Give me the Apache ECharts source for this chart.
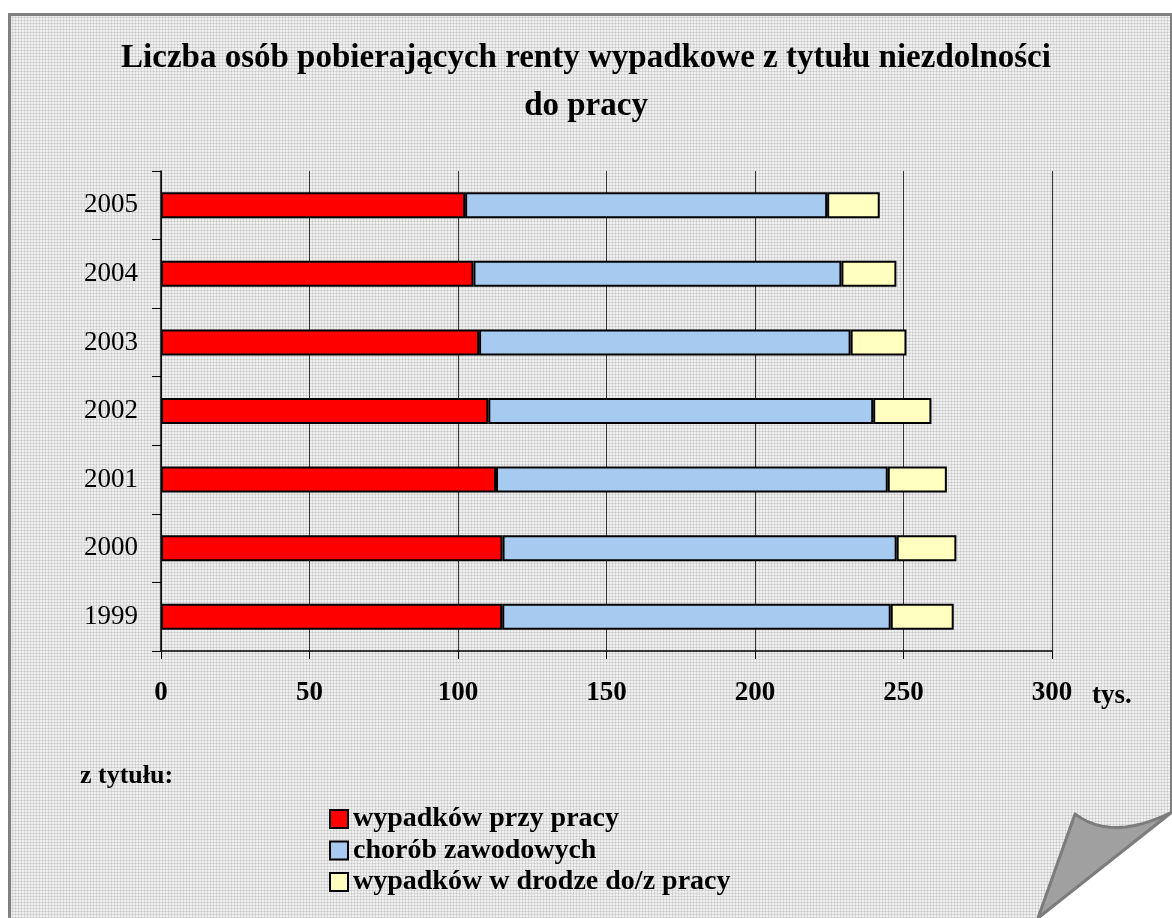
<!DOCTYPE html>
<html>
<head>
<meta charset="utf-8">
<script src="https://cdn.jsdelivr.net/npm/echarts@6/dist/echarts.min.js"></script>
<style>
  html, body { margin: 0; padding: 0; background: #fff; overflow: hidden; }
  #page {
    position: absolute; left: 8px; top: 13px; width: 1159px; height: 920px;
    border: 3px solid #808080; border-bottom: none;
    background-color: #efefef;
    background-image: radial-gradient(#c6c6c6 0.9px, transparent 1.1px);
    background-size: 3px 3px;
  }
  #chart { position: absolute; left: 0; top: 0; width: 1172px; height: 1000px; }
</style>
</head>
<body>
<div id="page"></div>
<div id="chart"></div>
<script>
// lata (od dołu)
const years = ['1999', '2000', '2001', '2002', '2003', '2004', '2005']
// tys. osób
const wypadkiPrzyPracy = [114.9, 115.0, 112.8, 110.2, 107.1, 105.2, 102.4]
const chorobyZawodowe = [130.8, 132.7, 131.9, 129.6, 125.1, 123.9, 121.9]
const wypadkiWDrodze = [21.2, 20.1, 19.9, 19.6, 18.8, 18.5, 17.7]
const seriesNames = ['wypadków przy pracy', 'chorób zawodowych', 'wypadków w drodze do/z pracy']
const seriesColors = ['#ff0000', '#a6caf0', '#ffffc0']

const serif = "'Liberation Serif', 'Times New Roman', serif"

const chart = echarts.init(document.getElementById('chart'))

const makeSeries = (name, data, color) => ({
  name: name,
  type: 'bar',
  stack: 'total',
  data: data,
  barWidth: 26,
  itemStyle: { color: color, borderColor: '#000', borderWidth: 2 },
  emphasis: { disabled: true }
})

// zagięty róg kartki (ozdobnik)
const foldPoints = [[1075, 814]]
for (let i = 1; i <= 12; i++) {
  const t = i / 12
  foldPoints.push([
    (1 - t) * (1 - t) * 1075 + 2 * (1 - t) * t * 1112 + t * t * 1172,
    (1 - t) * (1 - t) * 814 + 2 * (1 - t) * t * 842 + t * t * 812
  ])
}
foldPoints.push([1038, 918])

const option = {
  animation: false,
  title: {
    text: 'Liczba osób pobierających renty wypadkowe z tytułu niezdolności\ndo pracy',
    left: 'center',
    top: 29,
    textStyle: { fontFamily: serif, fontSize: 33, fontWeight: 'bold', color: '#000', lineHeight: 48 }
  },
  grid: { left: 161, right: 120, top: 171, bottom: 349 },
  xAxis: {
    type: 'value',
    min: 0,
    max: 300,
    interval: 50,
    axisLine: { show: true, lineStyle: { color: '#000', width: 1.5 } },
    axisTick: { show: true, length: 8, lineStyle: { color: '#000' } },
    axisLabel: { fontFamily: serif, fontSize: 27, fontWeight: 'bold', color: '#000', margin: 29 },
    splitLine: { show: true, lineStyle: { color: '#333', width: 1 } }
  },
  yAxis: {
    type: 'category',
    data: years,
    axisLine: { show: true, lineStyle: { color: '#000', width: 1.5 } },
    axisTick: { show: true, length: 9, lineStyle: { color: '#000' } },
    axisLabel: { fontFamily: serif, fontSize: 27, color: '#000', margin: 23 }
  },
  legend: {
    orient: 'vertical',
    left: 329,
    top: 805,
    padding: 0,
    itemWidth: 18,
    itemHeight: 18,
    itemGap: 3.5,
    icon: 'rect',
    selectedMode: false,
    data: seriesNames,
    textStyle: { fontFamily: serif, fontSize: 28, fontWeight: 'bold', color: '#000', lineHeight: 18 }
  },
  graphic: [
    {
      type: 'text', x: 1092, y: 683,
      style: { text: 'tys.', font: 'bold 27px ' + serif, fill: '#000' }
    },
    {
      type: 'text', x: 80, y: 763,
      style: { text: 'z tytułu:', font: 'bold 26px ' + serif, fill: '#000' }
    },
    {
      type: 'polygon',
      shape: { points: [[1036, 918], [1172, 812], [1172, 1000], [1036, 1000]] },
      style: { fill: '#fff' }
    },
    {
      type: 'polygon',
      shape: { points: foldPoints },
      style: { fill: '#a0a0a0', stroke: '#7c7c7c', lineWidth: 3, lineJoin: 'round' }
    }
  ],
  series: [
    makeSeries(seriesNames[0], wypadkiPrzyPracy, seriesColors[0]),
    makeSeries(seriesNames[1], chorobyZawodowe, seriesColors[1]),
    makeSeries(seriesNames[2], wypadkiWDrodze, seriesColors[2])
  ]
}

chart.setOption(option)
</script>
</body>
</html>
